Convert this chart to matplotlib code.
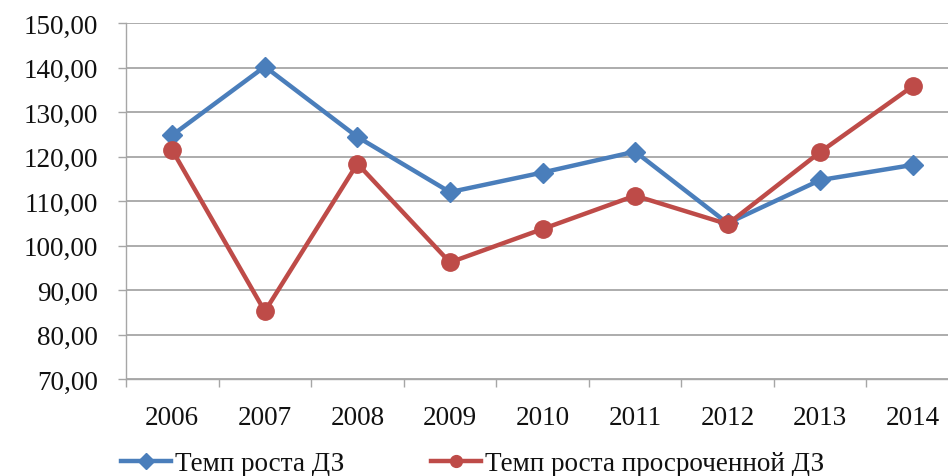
import matplotlib
matplotlib.use("Agg")
import matplotlib.pyplot as plt
import numpy as np

years = ["2006", "2007", "2008", "2009", "2010", "2011", "2012", "2013", "2014"]
growth_receivables = [124.8, 140.2, 124.4, 112.0, 116.4, 121.1, 105.0, 114.7, 118.1]
growth_overdue = [121.4, 85.2, 118.4, 96.2, 103.7, 111.2, 104.8, 121.0, 135.8]
y_ticks = [70, 80, 90, 100, 110, 120, 130, 140, 150]

label_receivables = "Темп роста ДЗ"
label_overdue = "Темп роста просроченной ДЗ"

blue = "#4A7EBB"
red = "#BE4B48"
text_color = "#111111"
grid_color = "#A6A6A6"

plt.rcParams["font.family"] = ["Liberation Serif", "DejaVu Serif"]

fig = plt.figure(figsize=(9.48, 4.77), dpi=100)
ax = fig.add_axes([126 / 948, 1 - 380 / 477, 833 / 948, 356 / 477])

x = np.arange(len(years))
ax.plot(x, growth_receivables, color=blue, lw=3.2, marker="D", markersize=10.5,
        label=label_receivables, zorder=3, solid_joinstyle="round")
ax.plot(x, growth_overdue, color=red, lw=3.2, marker="o", markersize=12.5,
        label=label_overdue, zorder=4, solid_joinstyle="round")

ax.set_xlim(-0.5, len(years) - 0.5)
ax.set_ylim(70, 150)
ax.set_yticks(y_ticks)
ax.set_yticklabels([f"{v:.2f}".replace(".", ",") for v in y_ticks])
ax.set_xticks(x)
ax.set_xticklabels(years)
ax.set_xticks(np.arange(-0.5, len(years) + 0.5, 1), minor=True)

ax.yaxis.grid(True, color=grid_color, lw=1.3, zorder=0)
ax.set_axisbelow(True)

for side in ("top", "right"):
    ax.spines[side].set_visible(False)
for side in ("left", "bottom"):
    ax.spines[side].set_color(grid_color)
    ax.spines[side].set_linewidth(1.0)

ax.tick_params(axis="y", length=6, width=1.0, color=grid_color, pad=14,
               labelsize=19.5, labelcolor=text_color)
ax.tick_params(axis="x", which="major", length=0, pad=19,
               labelsize=19.5, labelcolor=text_color)
ax.tick_params(axis="x", which="minor", length=6, width=1.0, color=grid_color)

leg = fig.legend(loc="center left", bbox_to_anchor=(121 / 948, 1 - 465 / 477),
                 ncol=2, frameon=False, fontsize=19.5, handlelength=1.85,
                 handletextpad=0.15, columnspacing=3.2, borderaxespad=0,
                 borderpad=0)
for t in leg.get_texts():
    t.set_color(text_color)
for h in leg.legend_handles:
    h.set_markersize(8.5)

fig.savefig("out.png", dpi=100)
